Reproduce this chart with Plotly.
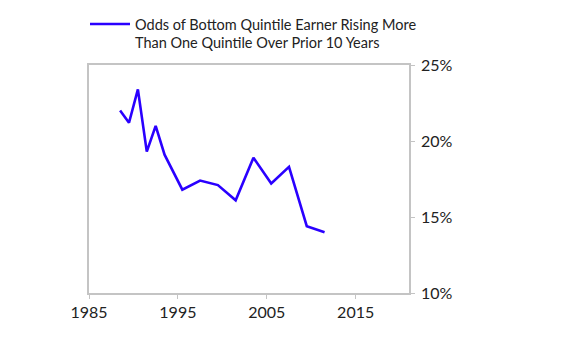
import plotly.graph_objects as go

years = [1988, 1989, 1990, 1991, 1992, 1993, 1995, 1997, 1999, 2001, 2003, 2005, 2007, 2009, 2011]
odds = [22.0, 21.2, 23.4, 19.3, 21.0, 19.1, 16.8, 17.4, 17.1, 16.1, 18.9, 17.2, 18.3, 14.4, 14.0]
x_ticks = [1985, 1995, 2005, 2015]
y_ticks = [10, 15, 20, 25]
series_name = "Odds of Bottom Quintile Earner Rising More<br>Than One Quintile Over Prior 10 Years"

# plotted at mid-year
xpos = [y + 0.5 for y in years]

fig = go.Figure()
fig.add_trace(go.Scatter(
    x=xpos, y=odds, mode="lines", name=series_name,
    line=dict(color="#2a00ff", width=2.6),
))

axis_common = dict(
    showline=True, linecolor="#c4c4c4", linewidth=1.5, mirror=True,
    showgrid=False, zeroline=False, ticks="outside", ticklen=4,
    tickcolor="#c4c4c4", tickwidth=1,
    tickfont=dict(family="Lato", size=16, color="#222222"),
    automargin=False,
)

fig.update_layout(
    width=569, height=347,
    margin=dict(l=81, r=168, t=57, b=62, autoexpand=False),
    paper_bgcolor="white", plot_bgcolor="white",
    showlegend=True,
    legend=dict(
        xref="container", yref="container",
        x=77 / 569, y=1.0, xanchor="left", yanchor="top",
        font=dict(family="Lato", size=14.5, color="#222222"),
        valign="top", itemwidth=40, tracegroupgap=0,
        bgcolor="rgba(0,0,0,0)",
    ),
    xaxis=dict(range=[1985, 2021], tickvals=x_ticks, ticktext=[str(v) for v in x_ticks], **axis_common),
    yaxis=dict(range=[10, 25], side="right", tickvals=y_ticks, ticktext=[f"{v}%" for v in y_ticks],
               ticklabelstandoff=3, **axis_common),
)

fig.write_html("out.html")
